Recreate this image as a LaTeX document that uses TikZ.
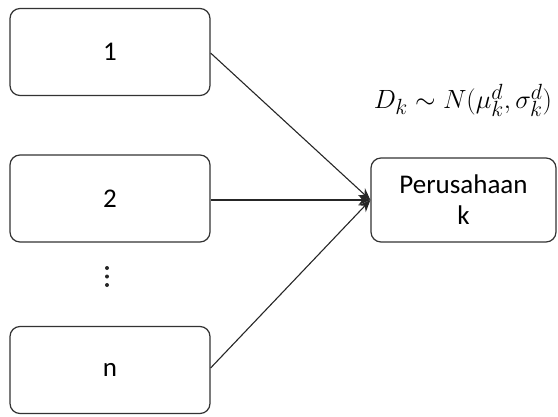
\documentclass[tikz,border=0pt]{standalone}
\usepackage{fontspec}
\setmainfont{Carlito}
\usetikzlibrary{arrows.meta}
\tikzset{
  box/.style={draw=black!80, line width=1.2pt, rounded corners=10pt, minimum width=200pt, minimum height=87pt, align=center, inner sep=0pt, font=\fontsize{27}{31}\selectfont},
  conn/.style={draw=black!85, line width=1.1pt, -{Stealth[length=12pt,width=10pt,inset=4pt]}},
  lbl/.style={font=\fontsize{24.88}{30}\selectfont, scale=1.06},
  dot/.style={circle, fill=black!85, inner sep=0pt, minimum size=4pt}
}
\begin{document}
\begin{tikzpicture}[x=1pt,y=-1pt]
\useasboundingbox (0,0) rectangle (558,416);
\node[box] (b1) at (110,52) {1};
\node[box] (b2) at (110,198.5) {2};
\node[box] (bn) at (110,370) {n};
\node[dot] (d1) at (107,268) {};
\node[dot] (d2) at (107,276.5) {};
\node[dot] (d3) at (107,285) {};
\node[box, minimum width=185pt, minimum height=84pt] (p) at (463.5,200) {Perusahaan\\k};
\node[lbl] (f) at (463,100) {$D_k\sim N\bigl(\mu_k^d,\sigma_k^d\bigr)$};
\draw[conn] (b1.east |- 0,53) -- (p.west);
\draw[conn] (b2.east |- 0,200) -- (p.west);
\draw[conn] (bn.east |- 0,368) -- (p.west);
\end{tikzpicture}
\end{document}
